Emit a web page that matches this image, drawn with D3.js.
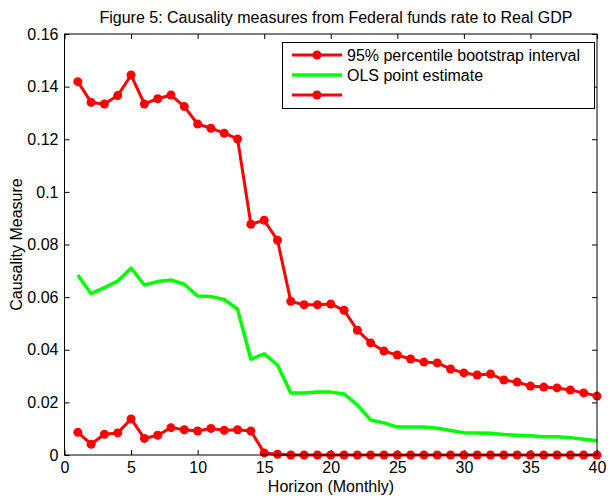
<!DOCTYPE html>
<html>
<head>
<meta charset="utf-8">
<script src="https://cdn.jsdelivr.net/npm/d3@7"></script>
<style>
  body { margin: 0; background: #fff; }
  svg { display: block; }
  text { font-family: "Liberation Sans", Arial, Helvetica, sans-serif; }
</style>
</head>
<body>
<svg id="chart" width="610" height="500"></svg>
<script>
// Horizon in months
const horizons = d3.range(1, 41);

// Upper bound of the 95% percentile bootstrap interval
const upperBound = [
  0.1419, 0.1340, 0.1334, 0.1366, 0.1444, 0.1334, 0.1354, 0.1368, 0.1324, 0.1258,
  0.1242, 0.1223, 0.1201, 0.0877, 0.0892, 0.0816, 0.0584, 0.0571, 0.0571, 0.0574,
  0.0550, 0.0474, 0.0426, 0.0395, 0.0380, 0.0365, 0.0353, 0.0350, 0.0327, 0.0312,
  0.0304, 0.0308, 0.0285, 0.0277, 0.0262, 0.0258, 0.0255, 0.0247, 0.0236, 0.0224
];

// OLS point estimate
const olsEstimate = [
  0.0684, 0.0613, 0.0636, 0.0661, 0.0710, 0.0646, 0.0659, 0.0665, 0.0649, 0.0604,
  0.0602, 0.0591, 0.0554, 0.0364, 0.0384, 0.0342, 0.0236, 0.0236, 0.0239, 0.0239,
  0.0232, 0.0190, 0.0133, 0.0122, 0.0106, 0.0106, 0.0106, 0.0102, 0.0093, 0.0085,
  0.0084, 0.0083, 0.0078, 0.0075, 0.0073, 0.0069, 0.0069, 0.0066, 0.0060, 0.0054
];

// Lower bound of the bootstrap interval
const lowerBound = [
  0.0086, 0.0041, 0.0079, 0.0084, 0.0137, 0.0063, 0.0075, 0.0104, 0.0096, 0.0091,
  0.0101, 0.0094, 0.0096, 0.0091, 0.0008, 0.0003, 0, 0, 0, 0,
  0, 0, 0, 0, 0, 0, 0, 0, 0, 0,
  0, 0, 0, 0, 0, 0, 0, 0, 0, 0
];

const xTicks = [0, 5, 10, 15, 20, 25, 30, 35, 40];
const yTicks = [0, 0.02, 0.04, 0.06, 0.08, 0.1, 0.12, 0.14, 0.16];
const yTickLabels = ["0", "0.02", "0.04", "0.06", "0.08", "0.1", "0.12", "0.14", "0.16"];

const legendLabels = ["95% percentile bootstrap interval", "OLS point estimate", ""];

const margin = { left: 64.5, right: 13, top: 34, bottom: 45 };
const W = 610, H = 500;
const FONT = 16;
const svg = d3.select("#chart");

const x = d3.scaleLinear().domain([0, 40]).range([margin.left, W - margin.right]);
const y = d3.scaleLinear().domain([0, 0.16]).range([H - margin.bottom, margin.top]);

const RED = "#ff0000", GREEN = "#00ff00";

// Plot background
svg.append("rect")
  .attr("x", x(0)).attr("y", y(0.16))
  .attr("width", x(40) - x(0)).attr("height", y(0) - y(0.16))
  .attr("fill", "#fff").attr("stroke", "none");

// Axes with inward ticks on all four sides
const axisStyle = g => {
  g.select(".domain").remove();
  g.selectAll(".tick line").attr("stroke", "#000").attr("stroke-width", 1);
  g.selectAll(".tick text")
    .attr("font-family", "'Liberation Sans', Arial, sans-serif")
    .attr("font-size", FONT).attr("fill", "#000");
};

svg.append("g")
  .attr("transform", `translate(0,${y(0)})`)
  .call(d3.axisBottom(x).tickValues(xTicks).tickSizeInner(-5).tickSizeOuter(0).tickPadding(6.5))
  .call(axisStyle);

svg.append("g")
  .attr("transform", `translate(0,${y(0.16)})`)
  .call(d3.axisTop(x).tickValues(xTicks).tickSizeInner(-5).tickSizeOuter(0).tickFormat(""))
  .call(axisStyle);

svg.append("g")
  .attr("transform", `translate(${x(0)},0)`)
  .call(d3.axisLeft(y).tickValues(yTicks).tickSizeInner(-5).tickSizeOuter(0).tickPadding(6)
    .tickFormat((d, i) => yTickLabels[i]))
  .call(axisStyle);

svg.append("g")
  .attr("transform", `translate(${x(40)},0)`)
  .call(d3.axisRight(y).tickValues(yTicks).tickSizeInner(-5).tickSizeOuter(0).tickFormat(""))
  .call(axisStyle);

// Series
const line = d3.line().x((d, i) => x(horizons[i])).y(d => y(d));

const plotSeries = (vals, color, width, markers) => {
  svg.append("path")
    .datum(vals)
    .attr("d", line)
    .attr("fill", "none")
    .attr("stroke", color)
    .attr("stroke-width", width)
    .attr("stroke-linejoin", "round");
  if (markers) {
    svg.append("g").selectAll("circle")
      .data(vals)
      .join("circle")
      .attr("cx", (d, i) => x(horizons[i]))
      .attr("cy", d => y(d))
      .attr("r", 4.5)
      .attr("fill", color);
  }
};

plotSeries(olsEstimate, GREEN, 3.5, false);
plotSeries(upperBound, RED, 3, true);
plotSeries(lowerBound, RED, 3, true);

// Frame lines on top
svg.append("rect")
  .attr("x", x(0)).attr("y", y(0.16))
  .attr("width", x(40) - x(0)).attr("height", y(0) - y(0.16))
  .attr("fill", "none").attr("stroke", "#000").attr("stroke-width", 1);

// Legend
const lg = svg.append("g");
lg.append("rect")
  .attr("x", 282.5).attr("y", 42.5).attr("width", 312).attr("height", 66)
  .attr("fill", "#fff").attr("stroke", "#000").attr("stroke-width", 1);

const legendItems = [
  { color: RED, width: 3, marker: true },
  { color: GREEN, width: 3.5, marker: false },
  { color: RED, width: 3, marker: true }
];
legendItems.forEach((it, i) => {
  const yy = 55 + i * 20;
  lg.append("line")
    .attr("x1", 292).attr("x2", 342).attr("y1", yy).attr("y2", yy)
    .attr("stroke", it.color).attr("stroke-width", it.width);
  if (it.marker) {
    lg.append("circle").attr("cx", 317).attr("cy", yy).attr("r", 4.5).attr("fill", it.color);
  }
  lg.append("text")
    .attr("x", 347).attr("y", yy + 5.5)
    .attr("font-size", FONT).attr("fill", "#000")
    .text(legendLabels[i]);
});

// Title and axis labels
svg.append("text")
  .attr("x", 336).attr("y", 23)
  .attr("text-anchor", "middle")
  .attr("font-size", FONT).attr("fill", "#000")
  .text("Figure 5: Causality measures from Federal funds rate to Real GDP");

svg.append("text")
  .attr("x", 331).attr("y", 492)
  .attr("text-anchor", "middle")
  .attr("font-size", FONT).attr("fill", "#000")
  .text("Horizon (Monthly)");

svg.append("text")
  .attr("transform", `translate(22,${(y(0) + y(0.16)) / 2}) rotate(-90)`)
  .attr("text-anchor", "middle")
  .attr("font-size", FONT).attr("fill", "#000")
  .text("Causality Measure");
</script>
</body>
</html>
